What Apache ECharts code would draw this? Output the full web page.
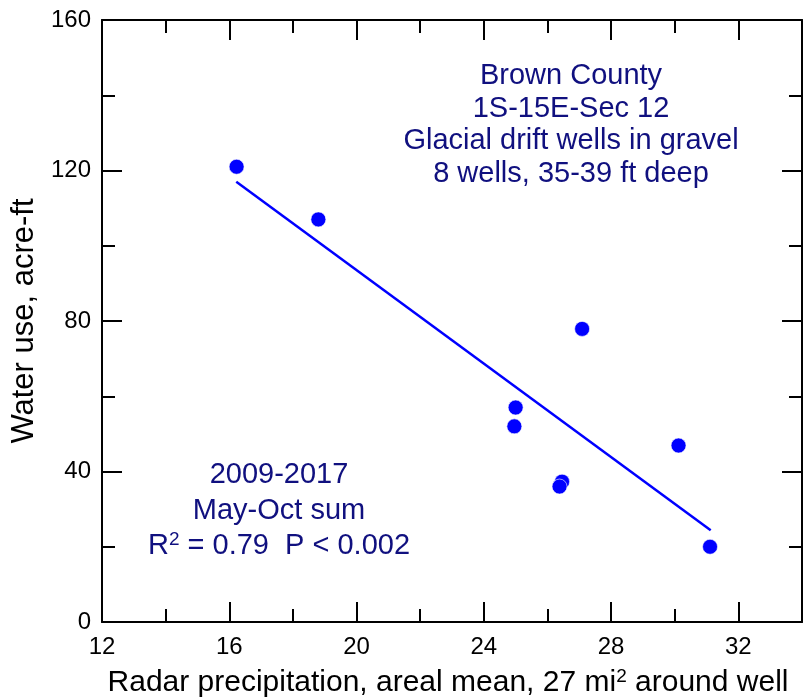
<!DOCTYPE html>
<html>
<head>
<meta charset="utf-8">
<script src="https://cdn.jsdelivr.net/npm/echarts@6/dist/echarts.min.js"></script>
<style>
  html, body { margin: 0; padding: 0; background: #fff; }
  #chart { width: 803px; height: 698px; }
</style>
</head>
<body>
<div id="chart"></div>
<script>
// radar precipitation (x) vs water use (y), one point per year 2009-2017
var precip = [16.23, 18.80, 27.09, 25.00, 24.96, 26.46, 26.38, 30.12, 31.11];
var waterUse = [121.0, 107.0, 77.9, 57.0, 52.0, 37.3, 36.0, 46.9, 20.0];

// regression line end points
var fitX = [16.22, 31.13];
var fitY = [117.0, 24.4];

var labelBlock1 = ['Brown County', '1S-15E-Sec 12', 'Glacial drift wells in gravel', '8 wells, 35-39 ft deep'];
var labelBlock2 = ['2009-2017', 'May-Oct sum'];

var font = 'Liberation Sans, Arial, sans-serif';
var navy = '#10107f';

var scatterData = precip.map(function (v, i) { return [v, waterUse[i]]; });
var fitData = fitX.map(function (v, i) { return [v, fitY[i]]; });

var chart = echarts.init(document.getElementById('chart'));

function xAx(pos, step, len, main) {
    return {
        type: 'value', position: pos, min: 12, max: 34, interval: step,
        axisLine: {show: main, lineStyle: {color: '#000', width: 2}},
        axisTick: {show: true, inside: true, length: len, lineStyle: {color: '#000', width: 2}},
        axisLabel: {
            show: main && pos === 'bottom', showMaxLabel: false, margin: 13,
            color: '#000', fontSize: 24, fontFamily: font
        },
        splitLine: {show: false}
    };
}

function yAx(pos, main) {
    return {
        type: 'value', position: pos, min: 0, max: 160, interval: 40,
        axisLine: {show: true, lineStyle: {color: '#000', width: 2}},
        axisTick: {show: true, inside: true, length: 20, lineStyle: {color: '#000', width: 2}},
        minorTick: {show: true, splitNumber: 2, length: 13, lineStyle: {color: '#000', width: 2}},
        axisLabel: {show: main, margin: 11, color: '#000', fontSize: 24, fontFamily: font},
        splitLine: {show: false}
    };
}

var xMain = xAx('bottom', 4, 20, true);
xMain.name = '{t|Radar precipitation, areal mean, 27 mi}{s|2}{t| around well}';
xMain.nameLocation = 'middle';
xMain.nameGap = 45;
xMain.nameTextStyle = {
    padding: [0, 8, 0, 0],
    rich: {
        t: {fontSize: 30, fontFamily: font, color: '#000', lineHeight: 32},
        s: {fontSize: 19, fontFamily: font, color: '#000', lineHeight: 19, verticalAlign: 'top'}
    }
};

var yMain = yAx('left', true);
yMain.name = 'Water use, acre-ft';
yMain.nameLocation = 'middle';
yMain.nameGap = 60;
yMain.nameTextStyle = {fontSize: 31, fontFamily: font, color: '#000'};

var annot = [];
labelBlock1.forEach(function (s, i) {
    annot.push({
        type: 'text', x: 571, y: 76 + i * 32.5,
        style: {text: s, fill: navy, font: '29px ' + font, textAlign: 'center', textVerticalAlign: 'middle'}
    });
});
labelBlock2.forEach(function (s, i) {
    annot.push({
        type: 'text', x: 279, y: 475 + i * 35.5,
        style: {text: s, fill: navy, font: '29px ' + font, textAlign: 'center', textVerticalAlign: 'middle'}
    });
});
annot.push({
    type: 'text', x: 279, y: 546,
    style: {
        text: '{t|R}{s|2}{t| = 0.79  P < 0.002}',
        textAlign: 'center', textVerticalAlign: 'middle',
        rich: {
            t: {fontSize: 29, fontFamily: font, fill: navy, lineHeight: 32},
            s: {fontSize: 19, fontFamily: font, fill: navy, lineHeight: 19, verticalAlign: 'top'}
        }
    }
});

chart.setOption({
    animation: false,
    backgroundColor: '#fff',
    grid: {left: 102, right: 1, top: 20, bottom: 76, containLabel: false, outerBoundsMode: 'none'},
    xAxis: [
        xMain,
        xAx('bottom', 2, 13, false),
        xAx('top', 4, 20, true),
        xAx('top', 2, 13, false)
    ],
    yAxis: [
        yMain,
        yAx('right', false)
    ],
    series: [
        {
            type: 'line',
            data: fitData,
            symbol: 'none',
            lineStyle: {color: '#0000ff', width: 2.5},
            z: 2
        },
        {
            type: 'scatter',
            data: scatterData,
            symbol: 'circle',
            symbolSize: 15,
            itemStyle: {color: '#0000ff', borderColor: '#fff', borderWidth: 0.6, opacity: 1},
            z: 3
        }
    ],
    graphic: annot
});
</script>
</body>
</html>
